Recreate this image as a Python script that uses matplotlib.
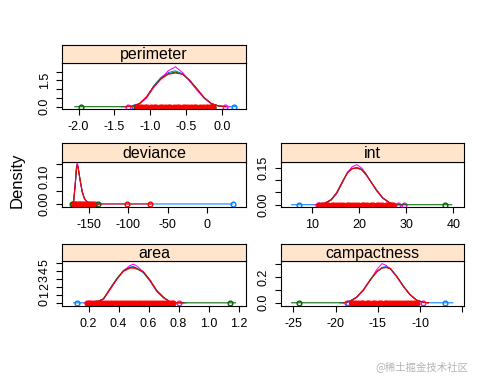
import matplotlib
matplotlib.use("Agg")
import matplotlib.pyplot as plt
import numpy as np

plt.rcParams['font.family'] = ['Liberation Sans', 'DejaVu Sans']
plt.rcParams['axes.unicode_minus'] = False

W, H = 480, 384
chain_colors = ['#0080ff', '#ff00ff', '#006400', '#ff0000']

# ---------------- data ----------------
# perimeter
per_grid = [-1.35, -1.25, -1.15, -1.05, -0.95, -0.85, -0.75, -0.65, -0.55, -0.45, -0.35, -0.25, -0.15, -0.05, 0.05]
per_dens = [
    [0.00, 0.03, 0.17, 0.55, 1.20, 1.68, 1.95, 2.05, 1.88, 1.48, 0.98, 0.50, 0.17, 0.04, 0.00],
    [0.00, 0.02, 0.15, 0.50, 1.10, 1.60, 2.05, 2.28, 1.95, 1.45, 0.95, 0.48, 0.16, 0.04, 0.01],
    [0.00, 0.03, 0.18, 0.57, 1.18, 1.62, 1.88, 1.98, 1.85, 1.50, 1.02, 0.52, 0.18, 0.05, 0.00],
    [0.00, 0.03, 0.18, 0.58, 1.15, 1.58, 1.85, 1.92, 1.86, 1.52, 1.03, 0.53, 0.19, 0.05, 0.00],
]
per_tails = [(-1.30, 0.20), (-1.40, 0.10), (-2.05, 0.02), (-1.30, 0.00)]
per_points = [
    [-1.22, 0.17],
    [-1.31, 0.04],
    [-1.96, -1.20, -1.18, -0.15, -0.13],
    [-1.19, -1.15, -1.12, -1.07, -1.04, -0.99, -0.95, -0.92, -0.87, -0.84, -0.79, -0.75, -0.72,
     -0.67, -0.63, -0.60, -0.55, -0.51, -0.48, -0.43, -0.39, -0.36, -0.31, -0.27, -0.23, -0.19, -0.15, -0.12],
]

# deviance
dev_grid = [-172, -169.5, -167.5, -166, -165, -164, -162.5, -160.5, -158.5, -156, -153, -149, -144]
dev_dens = [
    [0, 0.010, 0.070, 0.130, 0.148, 0.140, 0.110, 0.075, 0.045, 0.022, 0.009, 0.003, 0],
    [0, 0.012, 0.080, 0.140, 0.155, 0.145, 0.110, 0.072, 0.042, 0.020, 0.008, 0.002, 0],
    [0, 0.010, 0.070, 0.130, 0.145, 0.138, 0.112, 0.078, 0.046, 0.023, 0.009, 0.003, 0],
    [0, 0.010, 0.072, 0.128, 0.145, 0.140, 0.113, 0.077, 0.046, 0.022, 0.009, 0.003, 0],
]
dev_tails = [(-172, 33), (-172, -140), (-172, -135), (-172, -70)]
dev_points = [
    [33],
    [-170.5, -142],
    [-171, -138],
    [-169.5, -167.5, -165.5, -163, -161, -158.5, -156, -153, -150, -147, -144.5, -102, -72],
]

# int
int_grid = [11, 12.5, 14, 15.2, 16.5, 17.5, 18.5, 19.5, 20.5, 21.5, 22.5, 23.7, 25, 26.5, 28]
int_dens = [
    [0, 0.004, 0.020, 0.048, 0.095, 0.130, 0.148, 0.152, 0.145, 0.122, 0.093, 0.058, 0.027, 0.007, 0],
    [0, 0.004, 0.018, 0.045, 0.092, 0.132, 0.155, 0.163, 0.150, 0.125, 0.092, 0.056, 0.026, 0.006, 0],
    [0, 0.005, 0.020, 0.048, 0.097, 0.131, 0.147, 0.150, 0.143, 0.121, 0.094, 0.059, 0.028, 0.008, 0],
    [0, 0.005, 0.021, 0.050, 0.098, 0.130, 0.146, 0.149, 0.142, 0.120, 0.093, 0.060, 0.028, 0.008, 0],
]
int_tails = [(5.6, 29.0), (10.5, 30.0), (11.0, 39.7), (11.0, 28.0)]
int_points = [
    [7.2, 12.0],
    [11.2, 28.2, 29.5],
    [13.1, 38.2],
    [11.5, 12.1, 12.8, 13.4, 14.1, 14.7, 15.3, 16.0, 16.6, 17.3, 17.9, 18.5, 19.2, 19.8,
     20.5, 21.1, 21.7, 22.4, 23.0, 23.7, 24.3, 24.9, 25.6, 26.2, 26.8, 27.2],
]

# area
area_grid = [0.20, 0.25, 0.30, 0.343, 0.388, 0.432, 0.477, 0.50, 0.521, 0.565, 0.61, 0.655, 0.70, 0.743, 0.79, 0.83]
area_dens = [
    [0, 0.05, 0.50, 1.75, 3.00, 4.00, 4.45, 4.50, 4.30, 3.75, 2.70, 1.45, 0.65, 0.12, 0.02, 0],
    [0, 0.04, 0.45, 1.60, 2.90, 4.00, 4.65, 4.80, 4.60, 3.85, 2.70, 1.40, 0.60, 0.10, 0.02, 0],
    [0, 0.05, 0.52, 1.75, 3.00, 3.95, 4.40, 4.45, 4.30, 3.80, 2.80, 1.50, 0.68, 0.13, 0.02, 0],
    [0, 0.06, 0.50, 1.70, 2.90, 3.90, 4.30, 4.30, 4.20, 3.90, 2.85, 1.55, 0.70, 0.13, 0.02, 0],
]
area_tails = [(0.10, 0.85), (0.17, 0.82), (0.22, 1.18), (0.18, 0.80)]
area_points = [
    [0.12],
    [0.20, 0.80],
    [0.25, 0.27, 1.14],
    [0.19, 0.21, 0.23, 0.25, 0.27, 0.29, 0.31, 0.33, 0.35, 0.37, 0.39, 0.41, 0.43, 0.45, 0.47,
     0.49, 0.51, 0.53, 0.55, 0.57, 0.59, 0.61, 0.63, 0.65, 0.67, 0.69, 0.71, 0.73, 0.75, 0.765],
]

# campactness
camp_grid = [-19, -18.3, -17.5, -16.7, -15.9, -15.1, -14.5, -14.0, -13.5, -12.75, -11.97, -11.2, -10.4, -9.6, -9.0]
camp_dens = [
    [0, 0.012, 0.043, 0.100, 0.178, 0.245, 0.275, 0.282, 0.268, 0.205, 0.128, 0.064, 0.020, 0.004, 0],
    [0, 0.010, 0.040, 0.095, 0.175, 0.260, 0.305, 0.290, 0.262, 0.200, 0.125, 0.062, 0.020, 0.003, 0],
    [0, 0.012, 0.045, 0.102, 0.180, 0.243, 0.270, 0.276, 0.266, 0.206, 0.130, 0.065, 0.021, 0.004, 0],
    [0, 0.013, 0.044, 0.100, 0.176, 0.242, 0.270, 0.274, 0.265, 0.204, 0.130, 0.066, 0.021, 0.004, 0],
]
camp_tails = [(-19.5, -6.1), (-19.2, -9.2), (-25.2, -9.0), (-18.8, -9.5)]
camp_points = [
    [-18.5, -7.0],
    [-18.6, -9.6],
    [-24.3, -18.0],
    [-18.1, -17.7, -17.4, -17.0, -16.7, -16.3, -16.0, -15.6, -15.3, -14.9, -14.6, -14.2, -13.9,
     -13.5, -13.2, -12.8, -12.5, -12.1, -11.8, -11.4, -11.1, -10.7, -10.4],
]

panels = [
    ("perimeter", per_grid, per_dens, per_tails, per_points, (-2.23, 0.334), (-0.131, 2.497),
     [-2.0, -1.5, -1.0, -0.5, 0.0], ["-2.0", "-1.5", "-1.0", "-0.5", "0.0"],
     [0, 0.5, 1.0, 1.5, 2.0], ["0.0", "", "", "1.5", ""], (62, 246, 45, 63, 109)),
    ("deviance", dev_grid, dev_dens, dev_tails, dev_points, (-184.3, 49.6), (-0.0102, 0.159),
     [-150, -100, -50, 0], ["-150", "-100", "-50", "0"],
     [0, 0.05, 0.10, 0.15], ["0.00", "", "0.10", ""], (62, 246, 143, 161.5, 206.7)),
    ("int", int_grid, int_dens, int_tails, int_points, (3.34, 42.3), (-0.008, 0.176),
     [10, 20, 30, 40], ["10", "20", "30", "40"],
     [0, 0.05, 0.10, 0.15], ["0.00", "", "", "0.15"], (281, 464, 143, 161.5, 206.7)),
    ("area", area_grid, area_dens, area_tails, area_points, (0.023, 1.25), (-0.33, 5.2),
     [0.2, 0.4, 0.6, 0.8, 1.0, 1.2], ["0.2", "0.4", "0.6", "0.8", "1.0", "1.2"],
     [0, 1, 2, 3, 4, 5], ["0", "1", "2", "3", "4", "5"], (62, 246, 244, 261, 305.5)),
    ("campactness", camp_grid, camp_dens, camp_tails, camp_points, (-26.46, -4.79), (-0.021, 0.325),
     [-25, -20, -15, -10, -5], ["-25", "-20", "-15", "-10", ""],
     [0, 0.1, 0.2, 0.3], ["0.0", "", "0.2", ""], (281, 464, 244, 261, 305.5)),
]

fig = plt.figure(figsize=(W / 100, H / 100), dpi=100)


def frac(x0, x1, ytop, ybot):
    return [x0 / W, 1 - ybot / H, (x1 - x0) / W, (ybot - ytop) / H]


for (name, grid, dens, tails, points, xlim, ylim, xt, xl, yt, yl, pos) in panels:
    x0, x1, st, pt, pb = pos
    ax = fig.add_axes(frac(x0, x1, pt, pb))
    span = xlim[1] - xlim[0]
    for ci in range(4):
        xs = list(grid)
        ds = list(dens[ci])
        lo, hi = tails[ci]
        if lo < xs[0]:
            xs = [lo] + xs
            ds = [0.0] + ds
        if hi > xs[-1]:
            xs = xs + [hi]
            ds = ds + [0.0]
        p = np.array(points[ci], dtype=float)
        # where open circles pile up densely they read as a solid band
        if len(p) > 1:
            d = np.abs(p[:, None] - p[None, :]) + np.eye(len(p)) * 1e9
            dense = d.min(axis=1) < 0.025 * span
        else:
            dense = np.zeros(len(p), dtype=bool)
        ax.plot(p[~dense], np.zeros((~dense).sum()), linestyle='none', marker='o',
                markersize=3.4, markerfacecolor='none', markeredgecolor=chain_colors[ci],
                markeredgewidth=1.0)
        ax.plot(p[dense], np.zeros(dense.sum()), linestyle='none', marker='o',
                markersize=3.4, markerfacecolor=chain_colors[ci], markeredgecolor=chain_colors[ci],
                markeredgewidth=1.0)
        ax.plot(xs, ds, color=chain_colors[ci], lw=0.75)
    ax.set_xlim(*xlim)
    ax.set_ylim(*ylim)
    ax.set_xticks(xt)
    ax.set_xticklabels(xl)
    ax.set_yticks(yt)
    ax.set_yticklabels(yl, rotation=90, va='center')
    ax.tick_params(axis='both', direction='out', length=4, width=0.8, labelsize=9, pad=5)
    ax.tick_params(axis='y', pad=4)
    for s in ax.spines.values():
        s.set_linewidth(0.8)
    sax = fig.add_axes(frac(x0, x1, st, pt))
    sax.set_facecolor('#ffe5cc')
    sax.set_xticks([])
    sax.set_yticks([])
    for s in sax.spines.values():
        s.set_linewidth(0.8)
    sax.text(0.5, 0.45, name, transform=sax.transAxes, ha='center', va='center', fontsize=11.5)

fig.text(17 / W, 1 - 180 / H, "Density", rotation=90, ha='center', va='center', fontsize=12)
fig.text(468 / W, 1 - 367 / H, "@稀土掘金技术社区", ha='right', va='center', fontsize=7.5,
         color='#b4b4b4', family=['Noto Sans CJK SC', 'DejaVu Sans'])

fig.savefig("out.png", dpi=100)
